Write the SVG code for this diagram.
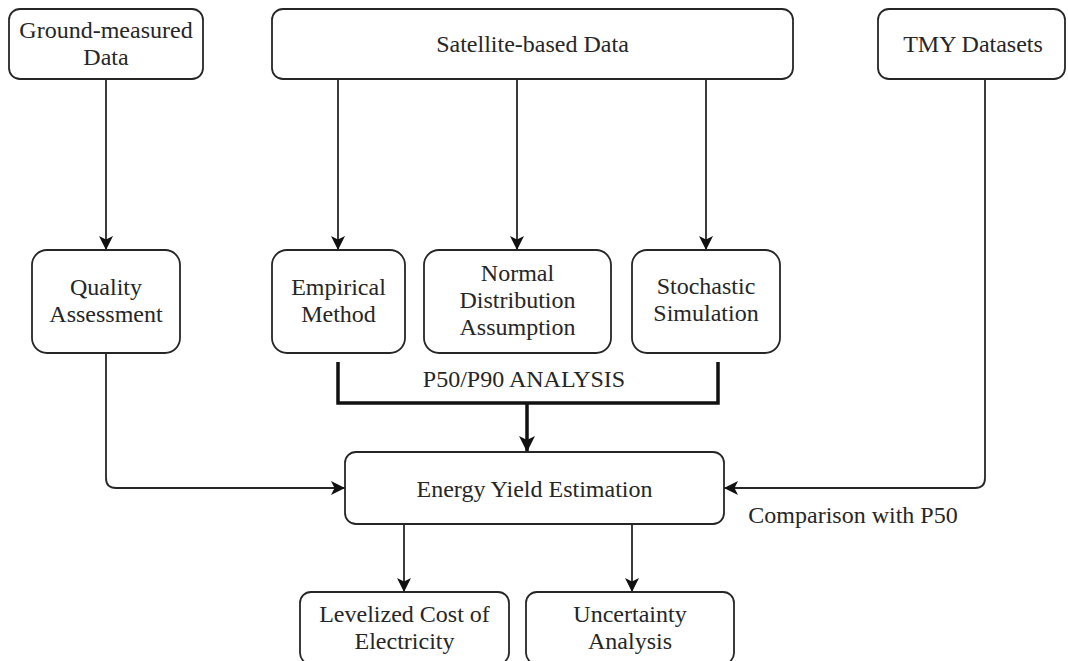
<svg xmlns="http://www.w3.org/2000/svg" width="1068" height="661" viewBox="0 0 1068 661">
<style>
.box{fill:#fff;stroke:#262626;stroke-width:1.8}
.t{font-family:"Liberation Serif","Times New Roman",serif;font-size:24px;fill:#262626;text-anchor:middle}
.c{fill:none;stroke:#262626;stroke-width:1.8}
.k{fill:none;stroke:#111;stroke-width:3.5}
</style>
<defs>
<marker id="a" markerUnits="userSpaceOnUse" viewBox="0 0 14 14" refX="14" refY="7" markerWidth="14" markerHeight="14" orient="auto"><path d="M0,0 L14,7 L0,14 L3.5,7 Z" fill="#111"/></marker>
<marker id="ak" markerUnits="userSpaceOnUse" viewBox="0 0 16 16" refX="16" refY="8" markerWidth="16" markerHeight="16" orient="auto"><path d="M0,0 L16,8 L0,16 L4,8 Z" fill="#111"/></marker>
</defs>
<rect width="1068" height="661" fill="#fff"/>
<g id="connectors">
<path class="c" d="M106,79 V250" marker-end="url(#a)"/>
<path class="c" d="M338,79 V250" marker-end="url(#a)"/>
<path class="c" d="M517,79 V250" marker-end="url(#a)"/>
<path class="c" d="M706,79 V250" marker-end="url(#a)"/>
<path class="c" d="M106,353 V478 Q106,488 116,488 H345" marker-end="url(#a)"/>
<path class="c" d="M985,79 V478 Q985,488 975,488 H724" marker-end="url(#a)"/>
<path class="k" d="M338,362 V403 H718 V362"/>
<path class="k" d="M527,403 V452" marker-end="url(#ak)"/>
<path class="c" d="M404,524 V592" marker-end="url(#a)"/>
<path class="c" d="M632,524 V592" marker-end="url(#a)"/>
<text class="t" x="524" y="387">P50/P90 ANALYSIS</text>
<text class="t" x="853" y="523">Comparison with P50</text>
</g>
<g id="ground">
<rect class="box" x="9" y="9" width="194" height="70" rx="11"/>
<text class="t" x="106" y="38">Ground-measured</text>
<text class="t" x="106" y="65">Data</text>
</g>
<g id="satellite">
<rect class="box" x="272" y="9" width="521" height="70" rx="11"/>
<text class="t" x="532.5" y="52">Satellite-based Data</text>
</g>
<g id="tmy">
<rect class="box" x="878" y="9" width="187" height="70" rx="11"/>
<text class="t" x="973" y="52">TMY Datasets</text>
</g>
<g id="quality">
<rect class="box" x="32" y="250" width="148" height="103" rx="15"/>
<text class="t" x="106" y="295">Quality</text>
<text class="t" x="106" y="322">Assessment</text>
</g>
<g id="empirical">
<rect class="box" x="272" y="250" width="133" height="103" rx="15"/>
<text class="t" x="338.5" y="295">Empirical</text>
<text class="t" x="338.5" y="322">Method</text>
</g>
<g id="normal">
<rect class="box" x="424" y="250" width="187" height="103" rx="15"/>
<text class="t" x="517.5" y="281">Normal</text>
<text class="t" x="517.5" y="308">Distribution</text>
<text class="t" x="517.5" y="335">Assumption</text>
</g>
<g id="stochastic">
<rect class="box" x="632" y="250" width="148" height="103" rx="15"/>
<text class="t" x="706" y="294">Stochastic</text>
<text class="t" x="706" y="321">Simulation</text>
</g>
<g id="energy">
<rect class="box" x="345" y="452" width="379" height="72" rx="11"/>
<text class="t" x="534.5" y="497">Energy Yield Estimation</text>
</g>
<g id="lcoe">
<rect class="box" x="300" y="592" width="209" height="72" rx="11"/>
<text class="t" x="404.5" y="622">Levelized Cost of</text>
<text class="t" x="404.5" y="649">Electricity</text>
</g>
<g id="uncertainty">
<rect class="box" x="526" y="592" width="208" height="72" rx="11"/>
<text class="t" x="630" y="622">Uncertainty</text>
<text class="t" x="630" y="649">Analysis</text>
</g>
</svg>
